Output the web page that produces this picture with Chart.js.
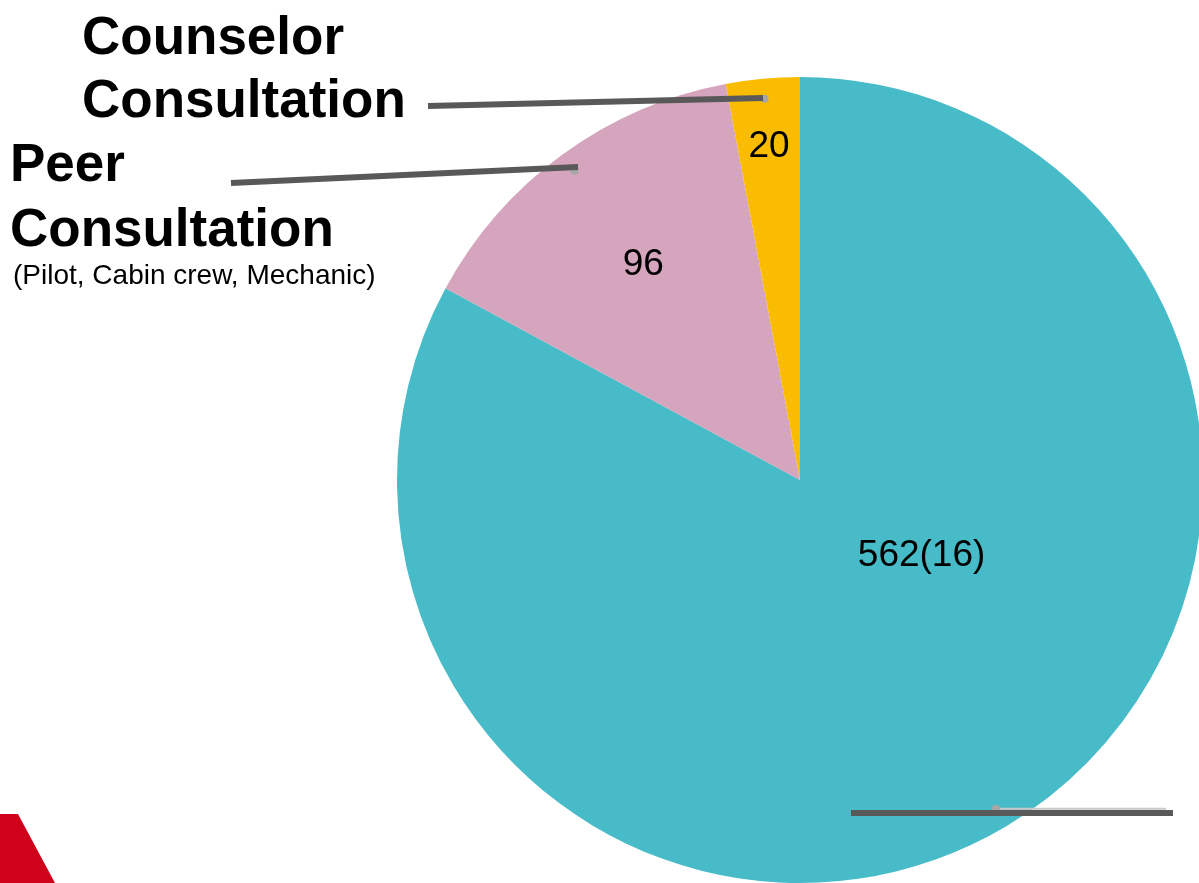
<!DOCTYPE html>
<html lang="en">
<head>
    <meta charset="UTF-8">
    <title>Consultation Pie</title>
    <style>
        body {
            margin: 0;
            width: 1199px;
            height: 883px;
            overflow: hidden;
            background: #fff;
            font-family: "Liberation Sans", Arial, sans-serif;
            position: relative;
        }
        #wrap {
            position: absolute;
            left: 0;
            top: 0;
            width: 1220px;
            height: 900px;
        }
        .title {
            position: absolute;
            font-weight: bold;
            font-size: 53px;
            color: #000;
            white-space: nowrap;
        }
        #counselor { left: 82px; top: 4px; line-height: 63px; }
        #peer { left: 10px; top: 130px; line-height: 65px; }
        #peerSub {
            position: absolute;
            left: 13px;
            top: 261px;
            font-size: 28px;
            line-height: 28px;
            white-space: nowrap;
            color: #000;
        }
        #corner {
            position: absolute;
            left: 0;
            top: 0;
            width: 1199px;
            height: 883px;
            pointer-events: none;
        }
    </style>
    <script src="https://cdn.jsdelivr.net/npm/chart.js"></script>
</head>
<body>
    <div id="wrap"><canvas id="pie"></canvas></div>

    <div id="counselor" class="title">Counselor<br>Consultation</div>
    <div id="peer" class="title">Peer<br>Consultation</div>
    <div id="peerSub">(Pilot, Cabin crew, Mechanic)</div>

    <svg id="corner"><polygon points="0,814 18,814 55,883 0,883" fill="#D0021B"/></svg>

    <script>
        // data
        const categories = ['Other', 'Peer Consultation', 'Counselor Consultation'];
        const counts = [562, 96, 20];
        const valueLabels = ['562(16)', '96', '20'];
        const sliceColors = ['#47BBC7', '#D5A5BD', '#FABC00'];

        // label placement inside each slice: fraction of radius, angle shift (deg)
        const labelRadius = [0.355, 0.66, 0.83];
        const labelShift = [-27.4, 0, 0];

        // leader lines: segment + dot on the slice at 0.95 r
        const leaders = [
            { slice: 0, seg: [851, 813, 1173, 813], thin: true },
            { slice: 1, seg: [231, 183, 578, 167] },
            { slice: 2, seg: [428, 106, 763, 98] }
        ];

        const pieExtras = {
            id: 'pieExtras',
            afterDatasetsDraw(chart) {
                const ctx = chart.ctx;
                const arcs = chart.getDatasetMeta(0).data;

                ctx.save();
                ctx.fillStyle = '#000';
                ctx.font = '37px "Liberation Sans", Arial, sans-serif';
                ctx.textAlign = 'center';
                ctx.textBaseline = 'middle';
                arcs.forEach((arc, i) => {
                    const a = (arc.startAngle + arc.endAngle) / 2 + labelShift[i] * Math.PI / 180;
                    const r = arc.outerRadius * labelRadius[i];
                    ctx.fillText(valueLabels[i], arc.x + Math.cos(a) * r, arc.y + Math.sin(a) * r);
                });

                leaders.forEach(l => {
                    const arc = arcs[l.slice];
                    const a = (arc.startAngle + arc.endAngle) / 2;
                    const dx = arc.x + Math.cos(a) * arc.outerRadius * 0.95;
                    const dy = arc.y + Math.sin(a) * arc.outerRadius * 0.95;

                    if (l.thin) {
                        ctx.strokeStyle = '#c8c8c8';
                        ctx.lineWidth = 2;
                        ctx.beginPath();
                        ctx.moveTo(dx, dy);
                        ctx.lineTo(l.seg[2] - 7, dy);
                        ctx.stroke();
                    }

                    ctx.fillStyle = '#a6a6a6';
                    ctx.beginPath();
                    ctx.arc(dx, dy, 4, 0, Math.PI * 2);
                    ctx.fill();

                    ctx.strokeStyle = '#595959';
                    ctx.lineWidth = 6;
                    ctx.beginPath();
                    ctx.moveTo(l.seg[0], l.seg[1]);
                    ctx.lineTo(l.seg[2], l.seg[3]);
                    ctx.stroke();
                });
                ctx.restore();
            }
        };

        new Chart(document.getElementById('pie'), {
            type: 'pie',
            data: {
                labels: categories,
                datasets: [{
                    data: counts,
                    backgroundColor: sliceColors,
                    borderWidth: 0
                }]
            },
            options: {
                responsive: true,
                maintainAspectRatio: false,
                animation: false,
                layout: {
                    padding: { left: 397, top: 77, right: 17, bottom: 17 }
                },
                plugins: {
                    legend: { display: false },
                    tooltip: { enabled: false }
                }
            },
            plugins: [pieExtras]
        });
    </script>
</body>
</html>
